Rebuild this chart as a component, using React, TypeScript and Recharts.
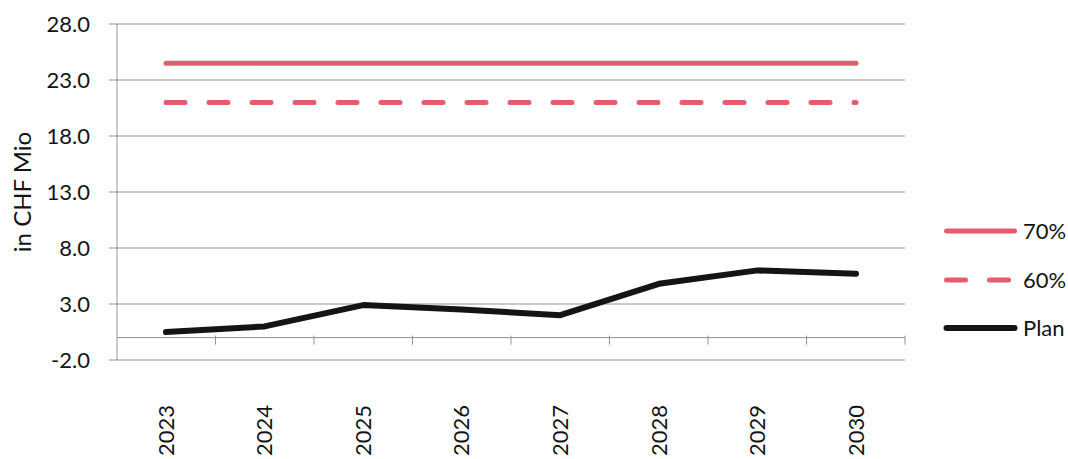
import React from 'react';
import { LineChart, Line, XAxis, YAxis, CartesianGrid, ReferenceLine } from 'recharts';

const years = ['2023', '2024', '2025', '2026', '2027', '2028', '2029', '2030'];
const plan = [0.5, 1.0, 2.9, 2.5, 2.0, 4.8, 6.0, 5.7];
const limit70 = [24.5, 24.5, 24.5, 24.5, 24.5, 24.5, 24.5, 24.5];
const limit60 = [21.0, 21.0, 21.0, 21.0, 21.0, 21.0, 21.0, 21.0];
const yTicks = [-2, 3, 8, 13, 18, 23, 28];

const data = years.map((year, i) => ({ year, plan: plan[i], p70: limit70[i], p60: limit60[i] }));

const FONT = 'Lato, "Open Sans", sans-serif';
const GRID = '#939393';
const PINK = '#e35d6f';
const INK = '#141414';

const legendItems = [
  { name: '70%', color: PINK, dash: undefined },
  { name: '60%', color: PINK, dash: '19 24' },
  { name: 'Plan', color: INK, dash: undefined },
];

const YearTick = (props: any) => {
  const { x, y, payload } = props;
  return (
    <g transform={`translate(${x},${y + 45})`}>
      <text transform="rotate(-90)" textAnchor="end" dy="0.35em" fontFamily={FONT} fontSize={22} fill={INK}>
        {payload.value}
      </text>
    </g>
  );
};

// zero line with Excel-style tick marks between categories
const ZeroAxis = (props: any) => {
  const { x1, x2, y1 } = props;
  const step = (x2 - x1) / years.length;
  return (
    <g>
      <line x1={x1} x2={x2} y1={y1} y2={y1} stroke={GRID} strokeWidth={1} />
      {years.map((_, i) => (
        <line key={i} x1={x1 + step * (i + 1)} x2={x1 + step * (i + 1)} y1={y1 - 2} y2={y1 + 7} stroke={GRID} strokeWidth={1} />
      ))}
    </g>
  );
};

const YLabel = (props: any) => {
  const { viewBox } = props;
  const cx = 22.5;
  const cy = viewBox.y + viewBox.height / 2;
  return (
    <text x={cx} y={cy} transform={`rotate(-90, ${cx}, ${cy})`} textAnchor="middle" dy="0.35em" fontFamily={FONT} fontSize={24} fill={INK}>
      in CHF Mio
    </text>
  );
};

export default function App() {
  return (
    <div style={{ position: 'fixed', left: 0, top: 0, width: 1068, height: 459, background: '#fff' }}>
      <LineChart width={1068} height={459} data={data} margin={{ top: 24, right: 163, bottom: 0, left: 0 }}>
        <CartesianGrid vertical={false} stroke={GRID} strokeWidth={1} />
        <XAxis
          dataKey="year"
          padding={{ left: 49, right: 49 }}
          height={99}
          axisLine={false}
          tickLine={false}
          tickSize={0}
          tickMargin={0}
          interval={0}
          tick={<YearTick />}
        />
        <YAxis
          width={117}
          domain={[-2, 28]}
          ticks={yTicks}
          interval={0}
          tickFormatter={(v: number) => v.toFixed(1)}
          axisLine={{ stroke: GRID }}
          tickLine={{ stroke: GRID }}
          tickSize={8}
          tickMargin={19}
          tick={{ fontFamily: FONT, fontSize: 22, fill: INK }}
          label={{ content: <YLabel /> }}
        />
        <ReferenceLine y={0} shape={(p: any) => <ZeroAxis {...p} />} />
        <Line dataKey="p70" stroke={PINK} strokeWidth={5} strokeLinecap="round" dot={false} isAnimationActive={false} />
        <Line dataKey="p60" stroke={PINK} strokeWidth={5} strokeLinecap="round" strokeDasharray="19 24" dot={false} isAnimationActive={false} />
        <Line dataKey="plan" stroke={INK} strokeWidth={6} strokeLinecap="round" strokeLinejoin="round" dot={false} isAnimationActive={false} />
      </LineChart>
      <div style={{ position: 'absolute', left: 942, top: 207, fontFamily: FONT, fontSize: 22, color: INK, whiteSpace: 'nowrap' }}>
        {legendItems.map((item) => (
          <div key={item.name} style={{ display: 'flex', alignItems: 'center', height: 48.5 }}>
            <svg width={76} height={48}>
              <line x1={4.5} x2={72.5} y1={24} y2={24} stroke={item.color} strokeWidth={item.color === INK ? 6 : 5} strokeLinecap="round" strokeDasharray={item.dash} />
            </svg>
            <span style={{ marginLeft: 5, lineHeight: '48px' }}>{item.name}</span>
          </div>
        ))}
      </div>
    </div>
  );
}
